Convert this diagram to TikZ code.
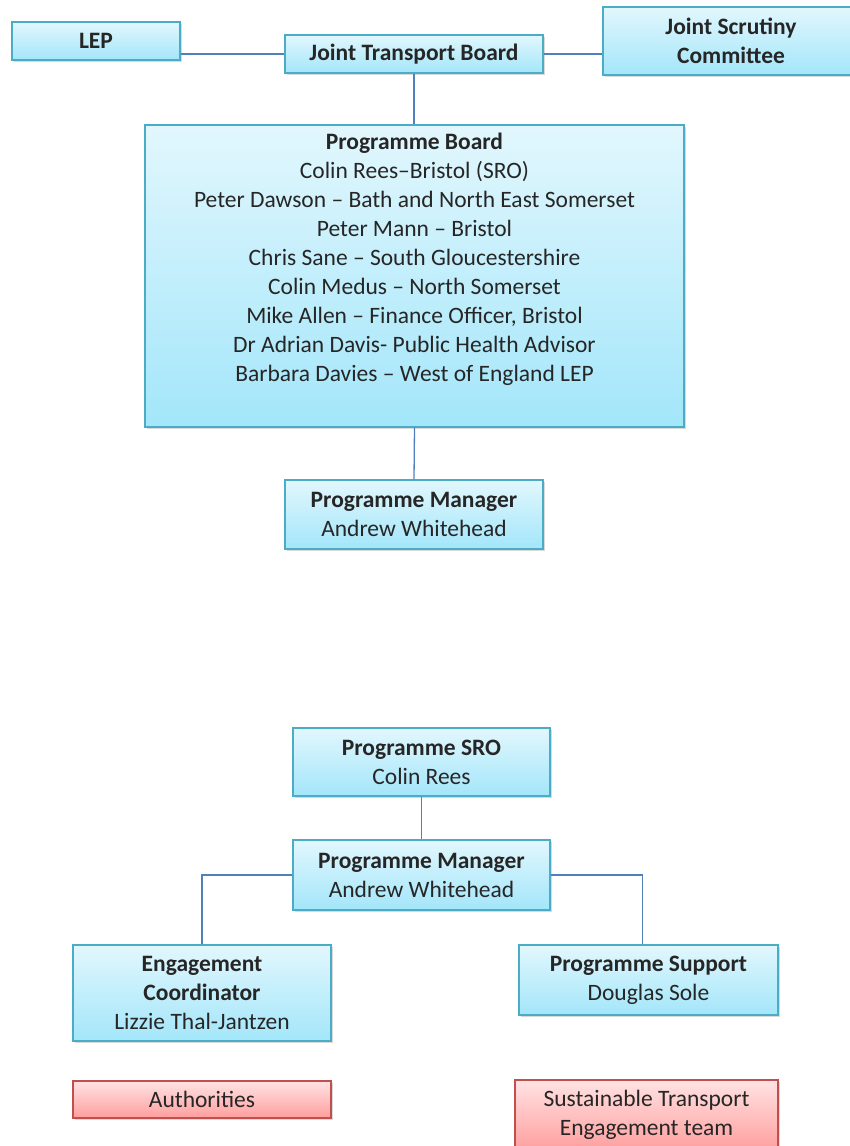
\documentclass[tikz,border=0pt]{standalone}
\usepackage{fontspec}
\setmainfont{Carlito}
\usetikzlibrary{shadows}

\definecolor{boxtop}{HTML}{E2F7FD}
\definecolor{boxbot}{HTML}{A3E6FA}
\definecolor{boxedge}{HTML}{4BACC6}
\definecolor{redtop}{HTML}{FFE3E3}
\definecolor{redbot}{HTML}{FF9E9E}
\definecolor{rededge}{HTML}{C0504D}
\definecolor{linkblue}{HTML}{4F81BD}

\tikzset{
  orgbox/.style={draw=boxedge, line width=1.2pt, top color=boxtop,
    bottom color=boxbot, align=center, inner sep=0pt, text=black!85,
    font=\fontsize{23.5}{29}\selectfont,
    drop shadow={opacity=0.3, shadow xshift=2pt, shadow yshift=-2pt}},
  teambox/.style={orgbox, draw=rededge, top color=redtop, bottom color=redbot},
  link/.style={draw=linkblue, line width=1.3pt}
}

\begin{document}
\begin{tikzpicture}[x=1pt,y=-1pt]
  \useasboundingbox (0,0) rectangle (849,1146);

  % top of the structure
  \node[orgbox, minimum width=168, minimum height=38] (lep) at (96,41)
    {\textbf{LEP}};
  \node[orgbox, minimum width=258, minimum height=38] (jtb) at (414,54)
    {\textbf{Joint Transport Board}};
  \node[orgbox, minimum width=256, minimum height=68] (jsc) at (731,41)
    {\textbf{Joint Scrutiny}\\\textbf{Committee}};

  \node[orgbox, minimum width=539, minimum height=302] (pb) at (414.5,276)
    {\textbf{Programme Board}\\
     Colin Rees--Bristol (SRO)\\
     Peter Dawson -- Bath and North East Somerset\\
     Peter Mann -- Bristol\\
     Chris Sane -- South Gloucestershire\\
     Colin Medus -- North Somerset\\
     Mike Allen -- Finance Officer, Bristol\\
     Dr Adrian Davis- Public Health Advisor\\
     Barbara Davies -- West of England LEP\\
     \strut};

  \node[orgbox, minimum width=258, minimum height=69] (pma) at (414,514.5)
    {\textbf{Programme Manager}\\Andrew Whitehead};

  \draw[link] (jtb.west) -- (jtb.west -| lep.east);
  \draw[link] (jtb.east) -- (jtb.east -| jsc.west);
  \draw[link] (jtb.south) -- (jtb.south |- pb.north);
  \draw[link] (pb.south) -- (pma.north);

  % programme team
  \node[orgbox, minimum width=257, minimum height=68] (sro) at (421.5,762)
    {\textbf{Programme SRO}\\Colin Rees};
  \node[orgbox, minimum width=257, minimum height=70] (pmb) at (421.5,875)
    {\textbf{Programme Manager}\\Andrew Whitehead};
  \node[orgbox, minimum width=258, minimum height=96] (eng) at (202,993)
    {\textbf{Engagement}\\\textbf{Coordinator}\\Lizzie Thal-Jantzen};
  \node[orgbox, minimum width=259, minimum height=70] (sup) at (648.5,980)
    {\textbf{Programme Support}\\Douglas Sole};

  \draw[link] (sro.south) -- (pmb.north);
  \draw[link] (pmb.west) -| (eng.north);
  \draw[link] (pmb.east) -| ([xshift=-6pt]sup.north);

  \node[teambox, minimum width=258, minimum height=37] (auth) at (202,1099.5)
    {Authorities};
  \node[teambox, minimum width=263, minimum height=70] (ste) at (646.5,1115)
    {Sustainable Transport\\Engagement team};

\end{tikzpicture}
\end{document}
